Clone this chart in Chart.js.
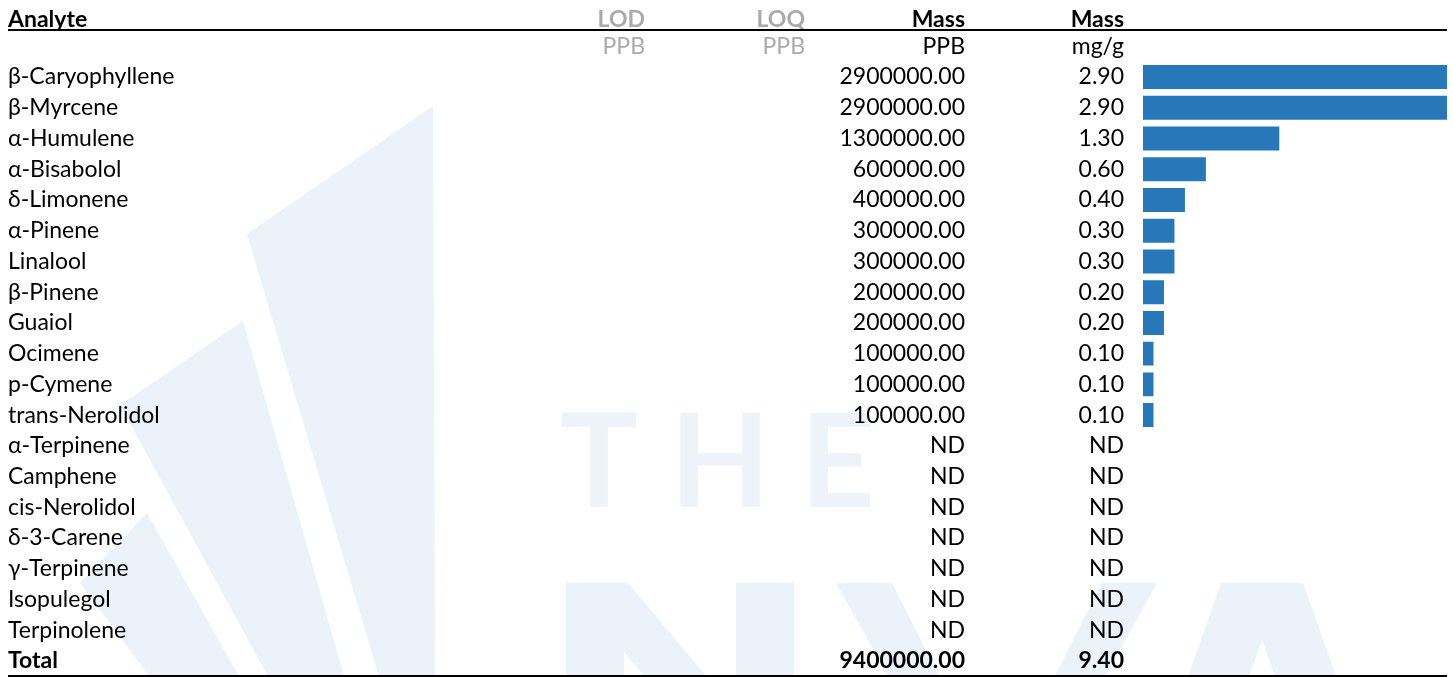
<!DOCTYPE html>
<html>
<head>
<meta charset="utf-8">
<script src="https://cdn.jsdelivr.net/npm/chart.js@4.4.1/dist/chart.umd.min.js"></script>
<style>
  html, body { margin: 0; padding: 0; background: #fff; }
  #wrap { width: 1453px; height: 677px; position: relative; }
</style>
</head>
<body>
<div id="wrap"><canvas id="terpChart"></canvas></div>
<script>
/* -------- DATA -------- */
const analytes = [
  "β-Caryophyllene", "β-Myrcene", "α-Humulene", "α-Bisabolol", "δ-Limonene",
  "α-Pinene", "Linalool", "β-Pinene", "Guaiol", "Ocimene", "p-Cymene",
  "trans-Nerolidol", "α-Terpinene", "Camphene", "cis-Nerolidol", "δ-3-Carene",
  "γ-Terpinene", "Isopulegol", "Terpinolene"
];
// null = ND (not detected)
const massPPB = [2900000, 2900000, 1300000, 600000, 400000, 300000, 300000,
  200000, 200000, 100000, 100000, 100000, null, null, null, null, null, null, null];
const massMgG = [2.90, 2.90, 1.30, 0.60, 0.40, 0.30, 0.30,
  0.20, 0.20, 0.10, 0.10, 0.10, null, null, null, null, null, null, null];
const totalPPB = 9400000;
const totalMgG = 9.40;
const headerTop = ["Analyte", "LOD", "LOQ", "Mass", "Mass"];
const headerUnits = ["", "PPB", "PPB", "PPB", "mg/g"];

const rowLabels = analytes.concat(["Total"]);
const barValues = massMgG.concat([null]);

/* -------- LAYOUT CONSTANTS -------- */
const FONT = "Lato, 'Noto Sans', sans-serif";
const SIZE = "23px ";
const colRight = { lod: 645, loq: 805, ppb: 965, mg: 1124 };
const leftX = 8, rightX = 1447;

/* -------- WATERMARK (background logo) -------- */
const watermark = {
  id: "watermark",
  beforeDraw(chart) {
    const c = chart.ctx;
    c.save();
    c.fillStyle = "#fff";
    c.fillRect(0, 0, chart.width, chart.height);

    const poly = (pts, col) => {
      c.fillStyle = col;
      c.beginPath();
      c.moveTo(pts[0][0], pts[0][1]);
      pts.slice(1).forEach(p => c.lineTo(p[0], p[1]));
      c.closePath();
      c.fill();
    };
    const blue = "#ebf2f9";
    // fan blades
    poly([[247, 234], [433, 106], [435, 680], [380, 680]], blue);
    poly([[243, 321], [345, 680], [270, 680], [120, 405]], blue);
    poly([[147, 513], [241, 680], [152, 680], [80, 583]], blue);

    // "THE"
    c.fillStyle = "#eef3f9";
    c.font = "bold 130px " + FONT;
    c.textBaseline = "alphabetic";
    c.textAlign = "left";
    c.fillText("T", 560, 507);
    c.fillText("H", 670, 507);
    c.fillText("E", 800, 507);

    // big letters, cut by the bottom edge
    poly([[566, 583], [624, 583], [624, 700], [566, 700]], blue);
    poly([[566, 583], [628, 583], [794, 780], [732, 780]], blue);
    poly([[736, 583], [794, 583], [794, 700], [736, 700]], blue);
    poly([[836, 583], [892, 583], [997, 790], [1102, 583], [1157, 583], [1025, 820], [970, 820]], blue);
    poly([[1221, 583], [1303, 583], [1380, 800], [1320, 800], [1262, 640], [1205, 800], [1145, 800]], blue);
    c.restore();
  }
};

/* -------- TABLE TEXT -------- */
const tableText = {
  id: "tableText",
  afterDatasetsDraw(chart) {
    const c = chart.ctx;
    const y = chart.scales.y;
    const rowH = y.getPixelForValue(1) - y.getPixelForValue(0);
    const firstY = y.getPixelForValue(0);
    c.save();
    c.textBaseline = "middle";

    // header row 1
    const h1 = firstY - rowH * 1.88;
    c.font = "bold " + SIZE + FONT;
    c.fillStyle = "#000";
    c.textAlign = "left";
    c.fillText(headerTop[0], leftX, h1);
    c.textAlign = "right";
    c.fillStyle = "#aaaaaa";
    c.fillText(headerTop[1], colRight.lod, h1);
    c.fillText(headerTop[2], colRight.loq, h1);
    c.fillStyle = "#000";
    c.fillText(headerTop[3], colRight.ppb, h1);
    c.fillText(headerTop[4], colRight.mg, h1);

    // header row 2 (units)
    const h2 = firstY - rowH;
    c.font = SIZE + FONT;
    c.fillStyle = "#aaaaaa";
    c.fillText(headerUnits[1], colRight.lod, h2);
    c.fillText(headerUnits[2], colRight.loq, h2);
    c.fillStyle = "#000";
    c.fillText(headerUnits[3], colRight.ppb, h2);
    c.fillText(headerUnits[4], colRight.mg, h2);

    // rules
    c.strokeStyle = "#000";
    c.lineWidth = 2;
    c.beginPath();
    c.moveTo(leftX, 30); c.lineTo(rightX, 30);
    c.moveTo(leftX, 676); c.lineTo(rightX, 676);
    c.stroke();

    // body rows
    rowLabels.forEach((name, i) => {
      const yy = y.getPixelForValue(i);
      const isTotal = i === analytes.length;
      c.font = (isTotal ? "bold " : "") + SIZE + FONT;
      c.fillStyle = "#000";
      c.textAlign = "left";
      c.fillText(name, leftX, yy);
      c.textAlign = "right";
      const ppb = isTotal ? totalPPB : massPPB[i];
      const mg = isTotal ? totalMgG : massMgG[i];
      c.fillText(ppb === null ? "ND" : ppb.toFixed(2), colRight.ppb, yy);
      c.fillText(mg === null ? "ND" : mg.toFixed(2), colRight.mg, yy);
    });
    c.restore();
  }
};

/* -------- CHART -------- */
const ctx = document.getElementById("terpChart").getContext("2d");
const terpChart = new Chart(ctx, {
  type: "bar",
  data: {
    labels: rowLabels,
    datasets: [{
      data: barValues,
      backgroundColor: "#2778b9",
      borderWidth: 0,
      categoryPercentage: 1,
      barPercentage: 0.78
    }]
  },
  options: {
    indexAxis: "y",
    responsive: true,
    maintainAspectRatio: false,
    animation: false,
    layout: { padding: { left: 1143, right: 6, top: 61.6, bottom: 0.6 } },
    scales: {
      x: { display: false, min: 0, max: 2.9 },
      y: { display: false }
    },
    plugins: {
      legend: { display: false },
      tooltip: { enabled: false }
    }
  },
  plugins: [watermark, tableText]
});
</script>
</body>
</html>
